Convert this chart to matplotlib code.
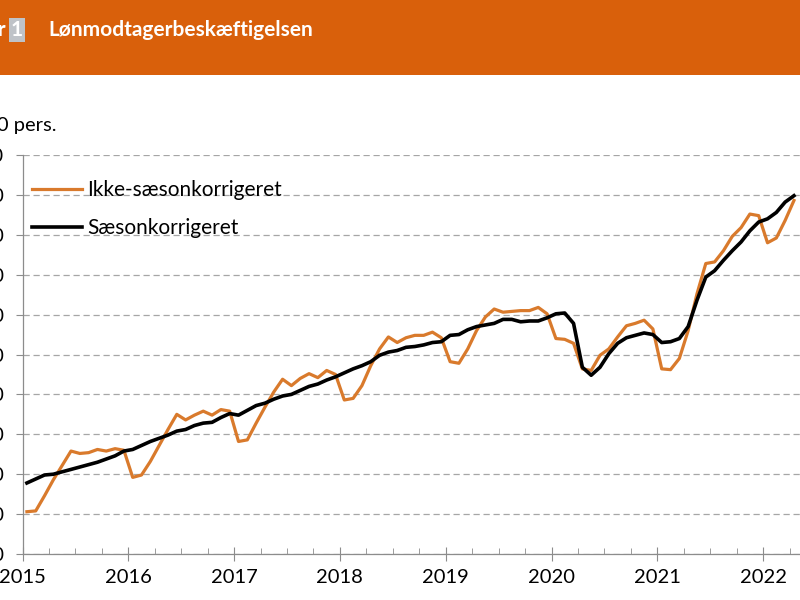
import matplotlib.pyplot as plt
from matplotlib.patches import Rectangle
from matplotlib.ticker import MultipleLocator, FuncFormatter

# Månedlige tal, 1.000 pers., jan. 2015 - apr. 2022
start_aar = 2015
ikke_saeson = [
    2553, 2554, 2573, 2593, 2611, 2629, 2626, 2627, 2631, 2629, 2632, 2630,
    2596, 2599, 2616, 2636, 2656, 2675, 2668, 2674, 2679, 2674, 2681, 2679,
    2641, 2643, 2664, 2684, 2703, 2719, 2711, 2720, 2726, 2721, 2730, 2725,
    2693, 2695, 2711, 2736, 2757, 2772, 2765, 2771, 2774, 2774, 2778, 2771,
    2741, 2739, 2757, 2780, 2797, 2807, 2803, 2804, 2805, 2805, 2809, 2801,
    2770, 2769, 2764, 2732, 2730, 2749, 2757, 2772, 2786, 2789, 2793, 2782,
    2732, 2731, 2745, 2780, 2826, 2864, 2866, 2880, 2898, 2909, 2926, 2924,
    2890, 2896, 2918, 2943,
]
saeson = [
    2589, 2594, 2599, 2600, 2603, 2606, 2609, 2612, 2615, 2619, 2623, 2629,
    2631, 2636, 2641, 2645, 2649, 2654, 2656, 2661, 2664, 2665, 2671, 2676,
    2674, 2680, 2686, 2689, 2694, 2698, 2700, 2705, 2710, 2713, 2718, 2722,
    2727, 2732, 2736, 2741, 2749, 2753, 2755, 2759, 2760, 2762, 2765, 2766,
    2774, 2775, 2781, 2785, 2787, 2789, 2794, 2794, 2791, 2792, 2792, 2796,
    2801, 2802, 2789, 2734, 2724, 2734, 2751, 2764, 2771, 2774, 2777, 2775,
    2765, 2766, 2770, 2785, 2818, 2847, 2855, 2868, 2880, 2891, 2905, 2916,
    2920, 2928, 2941, 2949,
]
aar_labels = [2015, 2016, 2017, 2018, 2019, 2020, 2021, 2022]
serie_navne = ["Ikke-sæsonkorrigeret", "Sæsonkorrigeret"]

ORANGE = "#D97A2C"
HEADER = "#D9600B"
GRAA = "#8C8C8C"

plt.rcParams["font.family"] = ["Lato", "DejaVu Sans"]

# tidsakse: hver måned midt i måneden
x = [start_aar + (i + 0.5) / 12 for i in range(len(saeson))]

fig = plt.figure(figsize=(8, 6), dpi=100)

# orange overskriftsbjælke
fig.patches.append(Rectangle((0, 600 - 75), 800, 75, transform=None,
                             facecolor=HEADER, edgecolor="none", zorder=0))
fig.text(6 / 800, 1 - 30 / 600, "Figur", color="white", fontsize=15,
         fontweight="bold", ha="right", va="center")
fig.text(11 / 800, 1 - 30 / 600, "1", color="white", fontsize=15,
         fontweight="bold", ha="left", va="center",
         bbox=dict(boxstyle="square,pad=0.1", facecolor="#BFC3C8", edgecolor="none"))
fig.text(48 / 800, 1 - 30 / 600, "Lønmodtagerbeskæftigelsen", color="white",
         fontsize=15, fontweight="bold", ha="left", va="center")
fig.text(57 / 800, 1 - 125 / 600, "1.000 pers.", fontsize=14.5, ha="right", va="center")

# akser (venstre del af tallene er skåret væk som i originalen)
ax = fig.add_axes([22.5 / 800, 46 / 600, (808 - 22.5) / 800, 399 / 600])
ax.plot(x, ikke_saeson, color=ORANGE, lw=2.3, label=serie_navne[0], zorder=3)
ax.plot(x, saeson, color="black", lw=2.6, label=serie_navne[1], zorder=4)

ax.set_xlim(2015, 2015 + (808 - 22.5) / 105.8)
ax.set_ylim(2500, 3000)
ax.yaxis.set_major_locator(MultipleLocator(50))
ax.yaxis.set_major_formatter(FuncFormatter(lambda v, p: f"{int(v):,}".replace(",", ".")))
ax.set_xticks(aar_labels)
ax.set_xticklabels([str(a) for a in aar_labels])
ax.xaxis.set_minor_locator(MultipleLocator(0.25))

ax.grid(axis="y", color="#A6A6A6", linestyle=(0, (5, 3)), linewidth=0.9)
ax.set_axisbelow(True)
for s in ["top", "right"]:
    ax.spines[s].set_visible(False)
for s in ["left", "bottom"]:
    ax.spines[s].set_color(GRAA)
    ax.spines[s].set_linewidth(0.9)

ax.tick_params(axis="y", direction="out", length=5, color=GRAA, labelsize=14, pad=8.5)
ax.tick_params(axis="x", which="major", direction="inout", length=10, color=GRAA,
               labelsize=14.5, pad=6)
ax.tick_params(axis="x", which="minor", direction="in", length=4, color=GRAA)

ax.legend(loc="upper left", bbox_to_anchor=(32 / 800, 1 - 180 / 600),
          bbox_transform=fig.transFigure, frameon=False, fontsize=15,
          handlelength=2.4, handletextpad=0.25, labelspacing=0.88,
          borderpad=0, borderaxespad=0)

fig.savefig("out.png", dpi=100)
